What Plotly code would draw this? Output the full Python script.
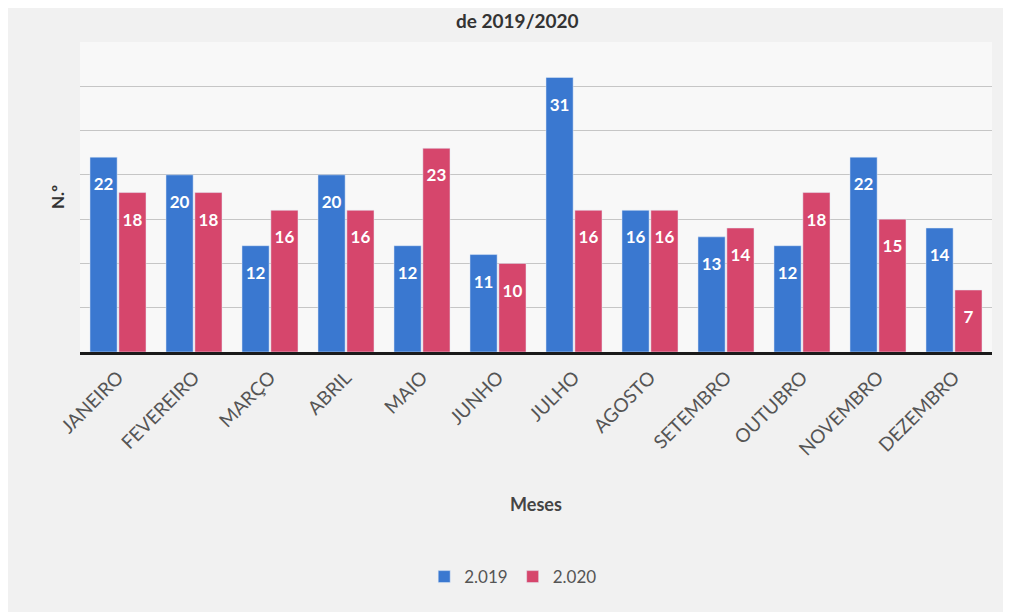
import plotly.graph_objects as go

# Monthly counts, 2019 vs 2020
meses = ["JANEIRO", "FEVEREIRO", "MARÇO", "ABRIL", "MAIO", "JUNHO",
         "JULHO", "AGOSTO", "SETEMBRO", "OUTUBRO", "NOVEMBRO", "DEZEMBRO"]
valores_2019 = [22, 20, 12, 20, 12, 11, 31, 16, 13, 12, 22, 14]
valores_2020 = [18, 18, 16, 16, 23, 10, 16, 16, 14, 18, 15, 7]
series_names = ["2.019", "2.020"]

blue = "#3a78d0"
pink = "#d6466c"
label_font = dict(family="Lato, Open Sans, sans-serif", size=17, color="white")

fig = go.Figure()
for vals, name, col in [(valores_2019, series_names[0], blue),
                        (valores_2020, series_names[1], pink)]:
    fig.add_trace(go.Bar(
        x=meses, y=vals, name=name, marker_color=col,
        # small blank first line pushes the value a bit down from the bar top
        texttemplate="<span style='font-size:8px'>&nbsp;</span><br><b>%{y}</b>",
        textposition="inside", insidetextanchor="end",
        textfont=label_font, textangle=0,
    ))

# page body has an 8px margin, so the figure is 8px smaller than the window
fig.update_layout(
    width=1003, height=604,
    barmode="group", bargap=0.24, bargroupgap=0.06,
    paper_bgcolor="#f1f1f1", plot_bgcolor="#f8f8f8",
    font=dict(family="Lato, Open Sans, sans-serif", color="#555555"),
    margin=dict(l=72, r=19, t=34, b=260, autoexpand=False),
    uniformtext=dict(minsize=15, mode="show"),
    legend=dict(orientation="h", x=0.475, xanchor="center", y=-0.726, yanchor="middle",
                font=dict(size=17, color="#555555"), bgcolor="rgba(0,0,0,0)"),
    showlegend=True,
)

fig.update_xaxes(
    tickangle=-45, tickfont=dict(size=19, color="#555555"),
    ticklabelstandoff=4, automargin=False,
    title=dict(text="<b>Meses</b>", font=dict(size=18, color="#444444"), standoff=40),
    showline=True, linecolor="#1a1a1a", linewidth=3, ticks="",
)
fig.update_yaxes(
    range=[0, 35], dtick=5, showticklabels=False, automargin=False,
    showgrid=True, gridcolor="#c6c6c6", gridwidth=1, zeroline=False,
    title=dict(text="<b>N.º</b>", font=dict(size=17, color="#333333"), standoff=10),
)

fig.add_annotation(
    text="<b>de 2019/2020</b>", xref="paper", yref="paper",
    x=0.48, y=1.068, yanchor="middle", showarrow=False,
    font=dict(size=19, color="#333333"),
)

fig.write_html("out.html")
